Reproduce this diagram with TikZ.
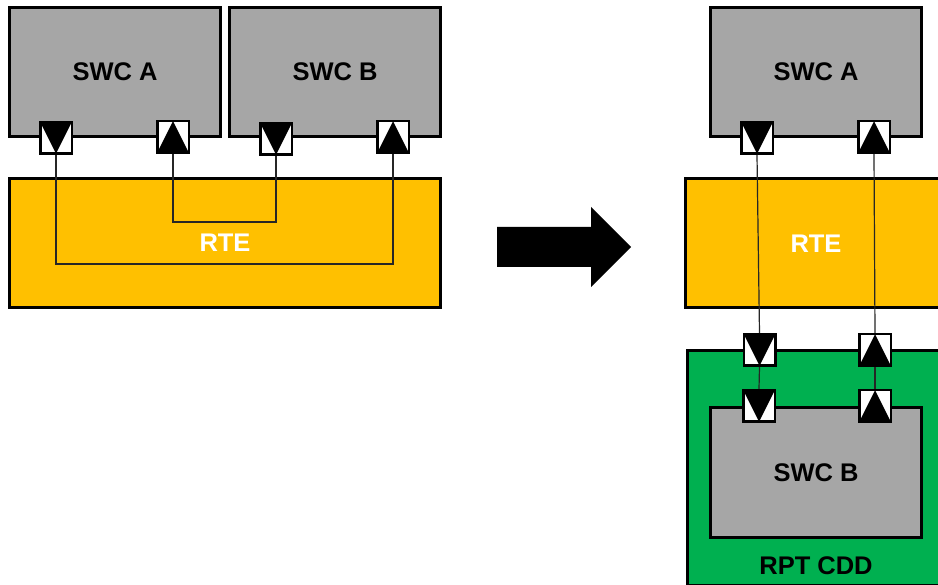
\documentclass[tikz,border=0pt]{standalone}
\usepackage{fontspec}
\setmainfont{Liberation Sans}
\definecolor{swcgray}{HTML}{A6A6A6}
\definecolor{rteyellow}{HTML}{FFC000}
\definecolor{cddgreen}{HTML}{00B050}
\begin{document}
\begin{tikzpicture}[x=1pt,y=-1pt,
  box/.style={draw=black, line width=3pt, fill=swcgray, inner sep=0pt, minimum width=211pt, minimum height=129pt, font=\fontsize{25.5}{30}\selectfont\bfseries},
  lbl/.style={inner sep=0pt, font=\fontsize{25.5}{30}\selectfont\bfseries},
  portdown/.style={draw=black, line width=2.5pt, fill=white, minimum size=31.5pt, inner sep=0pt,
    path picture={\fill[black] (path picture bounding box.north west) -- (path picture bounding box.north east) -- (path picture bounding box.south) -- cycle;}},
  portup/.style={draw=black, line width=2.5pt, fill=white, minimum size=31.5pt, inner sep=0pt,
    path picture={\fill[black] (path picture bounding box.south west) -- (path picture bounding box.south east) -- (path picture bounding box.north) -- cycle;}},
  conn/.style={draw=black!85, line width=1.2pt}
]
\path[use as bounding box, clip] (0,0) rectangle (938,585);
\fill[white] (0,0) rectangle (938,585);

% ---------- left side ----------
\node[box] (swcA) at (115,72) {SWC A};
\node[box] (swcB) at (335,72) {SWC B};
\node[box, fill=rteyellow, minimum width=431pt, text=white] (rte) at (225,243) {RTE};

\node[portdown] (a1) at (56,138) {};
\node[portup]   (a2) at (173,137) {};
\node[portdown] (b1) at (276,139) {};
\node[portup]   (b2) at (393,137) {};

\coordinate (outerloop) at (225,264);
\coordinate (innerloop) at (225,222);
\draw[conn] (a1.south) |- (outerloop) -| (b2.south);
\draw[conn] (a2.south) |- (innerloop) -| (b1.south);

% ---------- big arrow ----------
\fill[black] (497,227) -- (591,227) -- (591,207) -- (631,247) -- (591,287) -- (591,267) -- (497,267) -- cycle;

% ---------- right side ----------
\node[box] (rswcA) at (816,72) {SWC A};
\node[box, fill=rteyellow, minimum width=275pt] (rrte) at (822.5,243) {};
\node[lbl, text=white] (rrtelbl) at (816,244) {RTE};
\node[box, fill=cddgreen, minimum width=275pt, minimum height=235pt, anchor=north west] (cdd) at (685.5,349) {};
\node[box] (rswcB) at (816,472.5) {SWC B};
\node[lbl] (cddlbl) at (816,566) {RPT CDD};

\node[portdown] (ra1) at (757,138) {};
\node[portup]   (ra2) at (874,137) {};
\node[portdown] (c1) at (759.5,350) {};
\node[portup]   (c2) at (875,350) {};
\node[portdown] (d1) at (759,406) {};
\node[portup]   (d2) at (875,406) {};

\draw[conn] (ra1.south) -- (c1.north);
\draw[conn] (ra2.south) -- (c2.north);
\draw[conn] (c1.south) -- (d1.north);
\draw[conn] (c2.south) -- (d2.north);
\end{tikzpicture}
\end{document}
